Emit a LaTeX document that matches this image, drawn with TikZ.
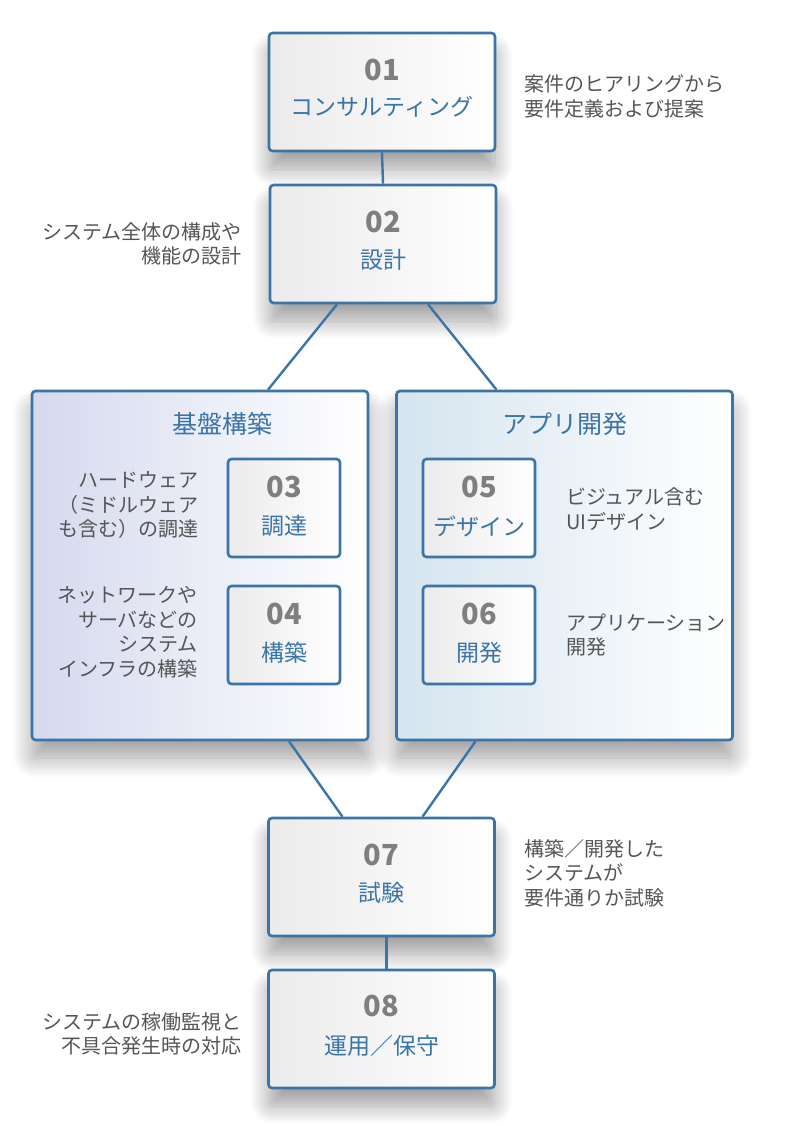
\documentclass[tikz,border=0pt]{standalone}
\usepackage{fontspec}
\setmainfont{Noto Sans CJK JP}
\usetikzlibrary{shadows.blur}
\definecolor{bblue}{HTML}{3B74A7}
\definecolor{numgray}{HTML}{7F7F7F}
\definecolor{sidegray}{HTML}{555555}
\definecolor{boxl}{HTML}{EBEBEB}
\definecolor{lavl}{HTML}{D5D9EE}
\definecolor{bluel}{HTML}{D5E4EF}
\begin{document}
\begin{tikzpicture}[x=1pt,y=-1pt,
  box/.style={draw=bblue, line width=2.6pt, rounded corners=3.5pt, left color=boxl, right color=white, inner sep=0pt},
  bigbox/.style={box, minimum width=226pt, minimum height=118pt,
    blur shadow={shadow xshift=0pt, shadow yshift=-18pt, shadow blur radius=18pt, shadow blur steps=24, shadow opacity=38}},
  smallbox/.style={box, minimum width=112pt, minimum height=98pt},
  group/.style={draw=bblue, line width=2.6pt, rounded corners=3.5pt, right color=white, inner sep=0pt,
    minimum width=336pt, minimum height=349pt,
    blur shadow={shadow xshift=0pt, shadow yshift=-18pt, shadow blur radius=20pt, shadow blur steps=24, shadow opacity=38}},
  num/.style={font=\fontsize{29}{32}\selectfont\bfseries, text=numgray, inner sep=0pt},
  ttl/.style={font=\fontsize{23}{26}\selectfont, text=bblue, inner sep=0pt},
  gttl/.style={font=\fontsize{25}{28}\selectfont, text=bblue, inner sep=0pt},
  side/.style={font=\fontsize{20}{24.5}\selectfont, text=sidegray, inner sep=0pt},
  conn/.style={draw=bblue, line width=2.4pt}
]
\useasboundingbox (0,0) rectangle (787,1143);

% groups
\node[group, left color=lavl] (gL) at (200,565.5) {};
\node[group, left color=bluel] (gR) at (564.5,565.5) {};
\node[gttl] (gLt) at (222,424) {基盤構築};
\node[gttl] (gRt) at (564.5,424) {アプリ開発};

% inner boxes
\node[smallbox] (b03) at (284,508) {};
\node[smallbox] (b04) at (284,635) {};
\node[smallbox] (b05) at (479,508) {};
\node[smallbox] (b06) at (479,635) {};
\node[num] (n03) at (284,487) {03};
\node[ttl] (t03) at (284,526) {調達};
\node[num] (n04) at (284,614) {04};
\node[ttl] (t04) at (284,653) {構築};
\node[num] (n05) at (479,487) {05};
\node[ttl] (t05) at (479,526) {デザイン};
\node[num] (n06) at (479,614) {06};
\node[ttl] (t06) at (479,653) {開発};

% main boxes
\node[bigbox] (b01) at (382,92) {};
\node[bigbox] (b02) at (383,244) {};
\node[bigbox] (b07) at (381.5,877) {};
\node[bigbox] (b08) at (381.5,1029) {};
\node[num] (n01) at (382,70) {01};
\node[ttl] (t01) at (382,107) {コンサルティング};
\node[num] (n02) at (383,222) {02};
\node[ttl] (t02) at (383,260) {設計};
\node[num] (n07) at (381.5,855) {07};
\node[ttl] (t07) at (381.5,893) {試験};
\node[num] (n08) at (381.5,1006) {08};
\node[ttl] (t08) at (381.5,1046) {運用／保守};

% side texts
\node[side, anchor=west, align=left] (s01) at (524,96.5) {案件のヒアリングから\\要件定義および提案};
\node[side, anchor=east, align=right] (s02) at (242,244) {システム全体の構成や\\機能の設計};
\node[side, anchor=east, align=right] (s03) at (199,505) {ハードウェア\\（ミドルウェア\\も含む）の調達};
\node[side, anchor=east, align=right] (s04) at (198,632) {ネットワークや\\サーバなどの\\システム\\インフラの構築};
\node[side, anchor=west, align=left] (s05) at (566,509) {ビジュアル含む\\UIデザイン};
\node[side, anchor=west, align=left] (s06) at (566,635) {アプリケーション\\開発};
\node[side, anchor=west, align=left] (s07) at (524,873) {構築／開発した\\システムが\\要件通りか試験};
\node[side, anchor=east, align=right] (s08) at (242,1034) {システムの稼働監視と\\不具合発生時の対応};

% connectors
\draw[conn] (b01.south) -- (b02.north);
\draw[conn] ([xshift=-46pt]b02.south) -- ([xshift=68pt]gL.north);
\draw[conn] ([xshift=45pt]b02.south) -- ([xshift=-68pt]gR.north);
\draw[conn] ([xshift=89pt]gL.south) -- ([xshift=-39pt]b07.north);
\draw[conn] ([xshift=-89pt]gR.south) -- ([xshift=41pt]b07.north);
\draw[conn] ([xshift=5pt]b07.south) -- ([xshift=5pt]b08.north);
\end{tikzpicture}
\end{document}
